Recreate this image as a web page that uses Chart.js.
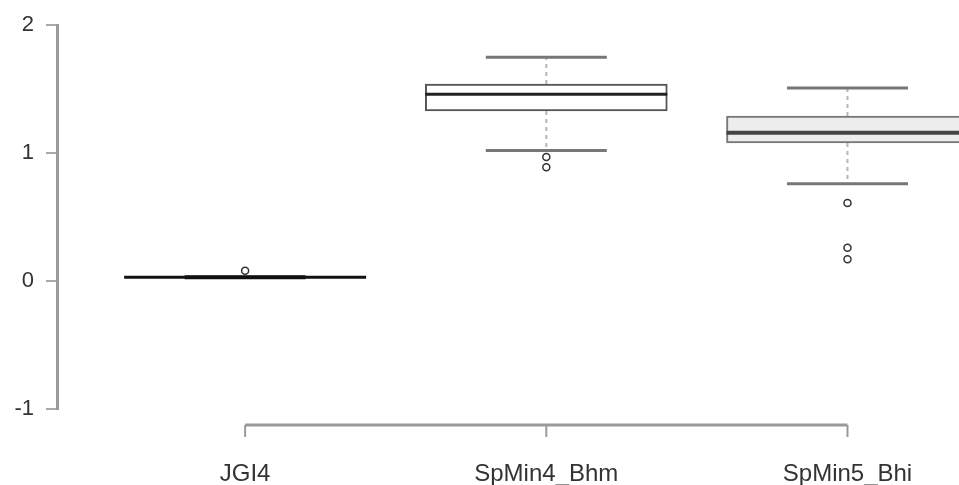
<!DOCTYPE html>
<html>
<head>
<meta charset="utf-8">
<script src="https://cdn.jsdelivr.net/npm/chart.js@4.4.1/dist/chart.umd.min.js"></script>
<style>
  html, body { margin: 0; padding: 0; background: #fff; }
  canvas { display: block; }
</style>
</head>
<body>
<canvas id="boxChart" width="959" height="485"></canvas>
<script>
// --- data ---
const categories = ['JGI4', 'SpMin4_Bhm', 'SpMin5_Bhi'];
const whiskerLow = [0.03, 1.02, 0.76];
const quartile1 = [0.03, 1.33, 1.08];
const medians = [0.03, 1.46, 1.16];
const quartile3 = [0.03, 1.54, 1.29];
const whiskerHigh = [0.03, 1.75, 1.51];
const outliers = [[0.08], [0.97, 0.89], [0.61, 0.26, 0.17]];
const yTicks = [-1, 0, 1, 2];

const FONT = "'Liberation Sans', Arial, sans-serif";
const medianColors = ['#111', '#222', '#444'];
const medianWidths = [3, 3, 4];

// whiskers, medians, dashed stems and the R style bottom axis
const boxExtras = {
    id: 'boxExtras',
    afterDatasetsDraw(chart) {
        const ctx = chart.ctx;
        const xs = chart.scales.x, ys = chart.scales.y;
        const meta = chart.getDatasetMeta(0);
        ctx.save();
        categories.forEach((c, i) => {
            const bar = meta.data[i];
            const cx = xs.getPixelForValue(i + 1);
            const half = bar.width / 2;
            const yLo = ys.getPixelForValue(whiskerLow[i]);
            const yQ1 = ys.getPixelForValue(quartile1[i]);
            const yMed = ys.getPixelForValue(medians[i]);
            const yQ3 = ys.getPixelForValue(quartile3[i]);
            const yHi = ys.getPixelForValue(whiskerHigh[i]);

            // stems
            ctx.strokeStyle = '#b5b5b5';
            ctx.lineWidth = 2;
            ctx.setLineDash([4, 4]);
            ctx.beginPath();
            ctx.moveTo(cx, yQ3); ctx.lineTo(cx, yHi);
            ctx.moveTo(cx, yQ1); ctx.lineTo(cx, yLo);
            ctx.stroke();
            ctx.setLineDash([]);

            // whisker caps
            ctx.strokeStyle = i === 0 ? '#111' : '#777';
            ctx.lineWidth = i === 0 ? 4 : 3;
            ctx.beginPath();
            ctx.moveTo(cx - half / 2, yHi); ctx.lineTo(cx + half / 2, yHi);
            ctx.moveTo(cx - half / 2, yLo); ctx.lineTo(cx + half / 2, yLo);
            ctx.stroke();

            // median
            ctx.strokeStyle = medianColors[i];
            ctx.lineWidth = medianWidths[i];
            ctx.beginPath();
            ctx.moveTo(cx - half, yMed); ctx.lineTo(cx + half, yMed);
            ctx.stroke();
        });

        // bottom axis, drawn between first and last group like R does
        const x0 = xs.getPixelForValue(1);
        const x1 = xs.getPixelForValue(categories.length);
        const ay = chart.chartArea.bottom + 16;
        ctx.strokeStyle = '#9a9a9a';
        ctx.lineWidth = 3;
        ctx.beginPath();
        ctx.moveTo(x0, ay); ctx.lineTo(x1, ay);
        ctx.stroke();
        ctx.lineWidth = 2;
        ctx.beginPath();
        categories.forEach((c, i) => {
            const tx = xs.getPixelForValue(i + 1);
            ctx.moveTo(tx, ay); ctx.lineTo(tx, ay + 12);
        });
        ctx.stroke();
        ctx.restore();
    }
};

const boxData = categories.map((c, i) => ({ x: i + 1, y: [quartile1[i], quartile3[i]] }));
const outlierData = [];
outliers.forEach((list, i) => list.forEach(v => outlierData.push({ x: i + 1, y: v })));

const ctxBox = document.getElementById('boxChart').getContext('2d');
const boxChart = new Chart(ctxBox, {
    type: 'bar',
    data: {
        datasets: [
            {
                label: 'box',
                data: boxData,
                barThickness: 242,
                clip: false,
                backgroundColor: ['#ffffff', '#ffffff', '#ededed'],
                borderColor: ['#111', '#555', '#777'],
                borderWidth: 2,
                borderSkipped: false
            },
            {
                type: 'scatter',
                label: 'outliers',
                data: outlierData,
                pointStyle: 'circle',
                pointRadius: 3.5,
                backgroundColor: 'rgba(0,0,0,0)',
                borderColor: '#333',
                borderWidth: 1.5
            }
        ]
    },
    options: {
        responsive: false,
        animation: false,
        layout: { padding: { top: 24, right: 0, left: 0, bottom: 0 } },
        plugins: { legend: { display: false }, tooltip: { enabled: false } },
        scales: {
            x: {
                type: 'linear',
                min: 0.3754,
                max: 3.352,
                offset: false,
                afterBuildTicks: (scale) => { scale.ticks = categories.map((c, i) => ({ value: i + 1 })); },
                afterFit: (scale) => {
                    scale.height = 76;
                    scale.paddingLeft = 0;
                    scale.paddingRight = 0;
                },
                grid: { display: false, drawTicks: false },
                border: { display: false },
                ticks: {
                    callback: (v) => categories[v - 1],
                    padding: 51,
                    maxRotation: 0,
                    autoSkip: false,
                    color: '#333',
                    font: { family: FONT, size: 24 }
                }
            },
            y: {
                min: -1,
                max: 2,
                afterBuildTicks: (scale) => { scale.ticks = yTicks.map(v => ({ value: v })); },
                afterFit: (scale) => { scale.width = 57; },
                grid: { drawOnChartArea: false, drawTicks: true, tickLength: 11, color: '#aaa', lineWidth: 2 },
                border: { display: true, color: '#9a9a9a', width: 3 },
                ticks: {
                    padding: 12,
                    color: '#333',
                    font: { family: FONT, size: 22 }
                }
            }
        }
    },
    plugins: [boxExtras]
});
</script>
</body>
</html>
